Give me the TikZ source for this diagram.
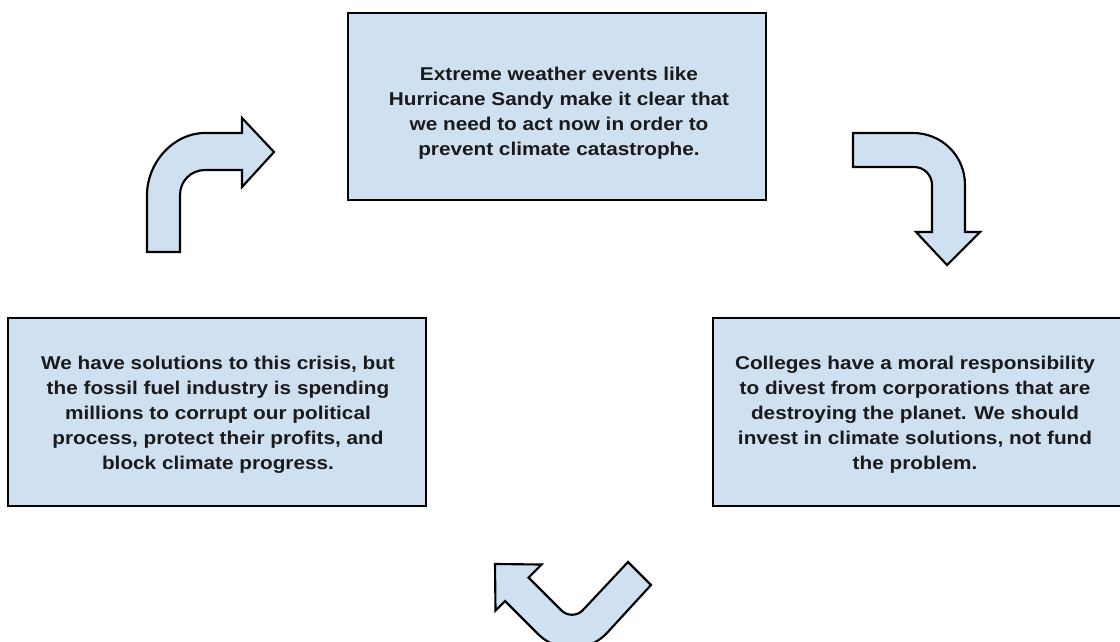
\documentclass[tikz,border=0pt]{standalone}
\usepackage{fontspec}
\setmainfont{Liberation Sans}[FakeStretch=1.12]
\definecolor{boxfill}{HTML}{CFE0F1}
\definecolor{txt}{HTML}{1A1A1A}
\tikzset{
  msgbox/.style={draw=black, fill=boxfill, line width=1.6pt, rectangle, inner sep=0pt},
  msgtext/.style={align=center, text=txt, inner sep=0pt,
    font=\fontsize{13.9}{18.75}\selectfont\bfseries},
  bentarrow/.style={draw=black, fill=boxfill, line width=1.6pt, line join=miter}
}
\begin{document}
\begin{tikzpicture}[x=0.75pt,y=-0.75pt]
\useasboundingbox (0,0) rectangle (1120,642);
\clip (0,0) rectangle (1120,642);
\fill[white] (0,0) rectangle (1120,642);
% boxes
\node[msgbox, minimum width=313.5pt, minimum height=140.25pt] (top) at (557,106.5) {};
\node[msgbox, minimum width=313.5pt, minimum height=141pt] (left) at (217,412) {};
\node[msgbox, minimum width=312.75pt, minimum height=141pt] (right) at (921.5,412) {};
% texts
\node[msgtext] (toptext) at (559,113.5)
 {Extreme weather events like\\Hurricane Sandy make it clear that\\we need to act now in order to\\prevent climate catastrophe.};
\node[msgtext] (lefttext) at (218,414.5)
 {We have solutions to this crisis, but\\the fossil fuel industry is spending\\millions to corrupt our political\\process, protect their profits, and\\block climate progress.};
\node[msgtext] (righttext) at (915,415)
 {Colleges have a moral responsibility\\to divest from corporations that are\\destroying the planet. We should\\invest in climate solutions, not fund\\the problem.};
% bent arrows
\draw[bentarrow] (147,252) -- (147,195) .. controls (147,163) and (173,133) .. (205,133)
  -- (242,133) -- (242,118) -- (274,152) -- (242,187) -- (242,170) -- (205,170)
  .. controls (191,170) and (180,181) .. (180,195) -- (180,252) -- cycle;
\draw[bentarrow] (853,133) -- (913,133) .. controls (942,133) and (965,156) .. (965,185)
  -- (965,232) -- (980,232) -- (947,265) -- (916,232) -- (932,232) -- (932,185)
  .. controls (932,175) and (924,167) .. (914,167) -- (853,167) -- cycle;
\draw[bentarrow] (495,564) -- (541.5,564.5) -- (528.5,577.5) -- (561.4,610.4)
  .. controls (567.2,616.2) and (576.8,616.2) .. (582.6,610.4) -- (628,562) -- (651,585)
  -- (606,634) .. controls (587.2,652.8) and (556.8,652.8) .. (538,634) -- (505,601)
  -- (495.5,610.5) -- cycle;
\end{tikzpicture}
\end{document}
